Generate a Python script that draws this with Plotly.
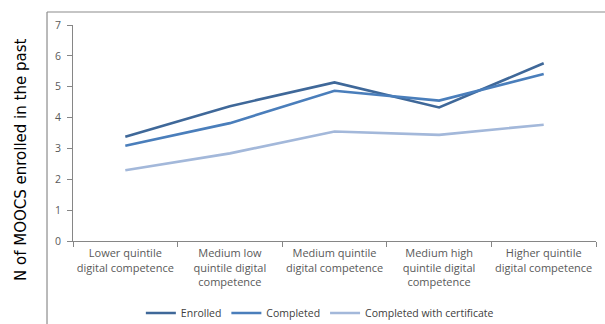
import plotly.graph_objects as go

# Quintiles of digital competence
categories = [
    "Lower quintile<br>digital competence",
    "Medium low<br>quintile digital<br>competence",
    "Medium quintile<br>digital competence",
    "Medium high<br>quintile digital<br>competence",
    "Higher quintile<br>digital competence",
]

# Mean number of MOOCs per group
enrolled = [3.38, 4.37, 5.14, 4.33, 5.76]
completed = [3.09, 3.82, 4.87, 4.55, 5.41]
with_certificate = [2.29, 2.84, 3.55, 3.44, 3.77]

series_names = ["Enrolled", "Completed", "Completed with certificate"]
series_colors = ["#3F6899", "#4A7EBB", "#A3B8DA"]

fig = go.Figure()
for name, values, color in zip(series_names, [enrolled, completed, with_certificate], series_colors):
    fig.add_trace(go.Scatter(
        x=categories, y=values, name=name, mode="lines",
        line=dict(color=color, width=2.6),
    ))

axis_font = dict(family="Open Sans, Lato, sans-serif", size=10.5, color="#595959")
cat_font = dict(family="Open Sans, Lato, sans-serif", size=11, color="#595959")

fig.update_layout(
    width=605, height=324,
    margin=dict(l=73, r=9, t=25, b=83, autoexpand=False),
    paper_bgcolor="white", plot_bgcolor="white",
    font=axis_font,
    showlegend=True,
    legend=dict(
        orientation="h", x=0.472, y=-0.333, xanchor="center", yanchor="middle",
        font=dict(family="Open Sans, Lato, sans-serif", size=10.5, color="#404040"),
        itemwidth=30, tracegroupgap=0,
    ),
    xaxis=dict(
        type="category", range=[-0.5, 4.5], automargin=False,
        showline=True, linecolor="#868686", linewidth=1,
        ticks="outside", ticklen=5, tickcolor="#868686", tickson="boundaries",
        ticklabelstandoff=2,
        showgrid=False, tickfont=cat_font, tickangle=0,
    ),
    yaxis=dict(
        range=[0, 7], dtick=1, automargin=False,
        showline=True, linecolor="#868686", linewidth=1,
        ticks="outside", ticklen=5, tickcolor="#868686", ticklabelstandoff=4,
        showgrid=False, zeroline=False, tickfont=axis_font,
    ),
    shapes=[
        # chart area frame (top and left edges)
        dict(type="line", xref="paper", yref="paper", x0=-0.0497, x1=1.05, y0=1.0602, y1=1.0602,
             line=dict(color="#8C8C8C", width=1.2)),
        dict(type="line", xref="paper", yref="paper", x0=-0.0497, x1=-0.0497, y0=1.0602, y1=-0.45,
             line=dict(color="#8C8C8C", width=1.2)),
    ],
    annotations=[
        dict(text="N of MOOCS enrolled in the past", textangle=-90,
             xref="paper", yref="paper", x=-0.0994, y=0.375,
             xanchor="center", yanchor="middle", showarrow=False,
             font=dict(family="DejaVu Sans, Verdana, sans-serif", size=15, color="#000000")),
    ],
)

fig.write_html("out.html")
